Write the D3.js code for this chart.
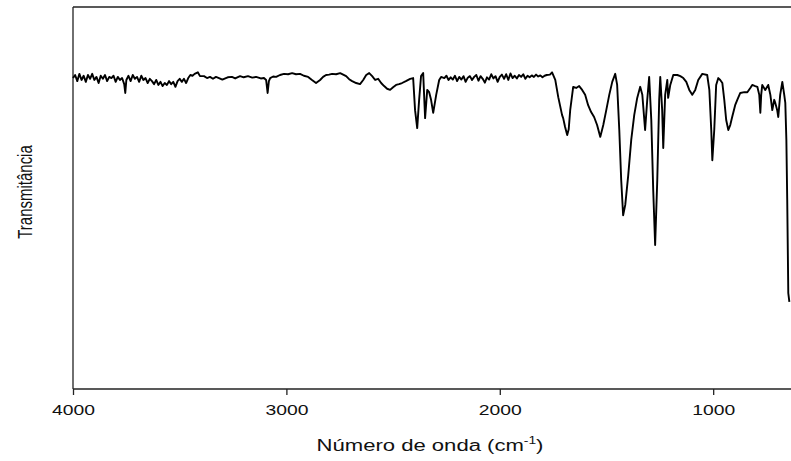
<!DOCTYPE html>
<html><head><meta charset="utf-8">
<script src="https://cdn.jsdelivr.net/npm/d3@7"></script>
<style>html,body{margin:0;padding:0;background:#fff;overflow:hidden}</style>
</head><body><svg id="c" width="791" height="461"></svg>
<script>
const xTicks = [4000, 3000, 2000, 1000];
const xTitle = "Número de onda (cm";
const yTitle = "Transmitância";

const spectrumHigh = [[4000,81.4],[3990,82.2],[3980,80.6],[3970,82.5],[3960,80.9],[3950,82.0],[3940,80.4],[3930,82.2],[3920,81.2],[3910,82.5],[3900,80.9],[3890,81.7],[3880,80.1],[3870,82.0],[3860,81.2],[3850,82.2],[3840,80.6],[3830,81.7],[3820,81.4],[3810,82.0],[3800,80.4],[3790,81.7],[3780,80.9],[3770,81.4],[3760,79.8],[3755,77.5],[3750,80.9],[3740,82.0],[3730,80.6],[3720,82.2],[3710,81.2],[3700,81.7],[3690,80.4],[3680,82.0],[3670,80.9],[3660,81.4],[3650,80.1],[3640,81.2],[3630,80.6],[3620,79.8],[3610,80.9],[3600,79.6],[3590,80.4],[3580,79.3],[3570,80.1],[3560,79.6],[3550,80.6],[3540,79.8],[3530,80.4],[3520,79.1],[3510,80.6],[3500,81.2],[3490,80.4],[3480,81.2],[3470,80.1],[3460,81.4],[3450,82.2],[3440,82.0],[3430,82.5],[3415,82.9],[3405,81.9]];

const spectrumMid = [[3386,81.9],[3372,81.4],[3358,81.7],[3344,81.2],[3330,81.7],[3316,81.4],[3300,81.0],[3292,81.2],[3275,81.6],[3255,81.7],[3240,81.3],[3217,81.9],[3200,81.6],[3180,81.9],[3160,81.5],[3142,81.7],[3120,81.3],[3105,81.4],[3095,80.9],[3088,77.5],[3082,80.6],[3076,81.4],[3062,81.8],[3048,81.7],[3030,82.2],[3011,82.5],[2992,82.4],[2973,82.7],[2955,82.4],[2936,82.5],[2918,82.0],[2898,81.7],[2880,80.9],[2861,80.1],[2842,80.9],[2828,81.7],[2814,82.2],[2800,82.3],[2786,82.5],[2767,82.4],[2748,82.7],[2734,82.3],[2720,81.9],[2706,81.1],[2692,80.6],[2673,80.1],[2655,79.8],[2640,80.9],[2626,82.2],[2612,82.7],[2598,81.9],[2584,80.9],[2570,81.2],[2556,80.1],[2542,79.3],[2528,78.6],[2514,78.3],[2500,79.0],[2486,79.6],[2472,79.8],[2458,80.1],[2440,80.6],[2420,81.2],[2406,81.4],[2397,73.0],[2387,68.3],[2378,75.7],[2369,81.9],[2359,82.7],[2350,70.9],[2340,78.3],[2331,77.7],[2322,75.7],[2312,72.3],[2298,77.0],[2284,80.9],[2275,81.7]];

const spectrumLow = [[2260,81.4],[2250,82.0],[2240,80.9],[2230,81.6],[2220,81.0],[2210,82.0],[2200,80.6],[2190,81.7],[2180,81.0],[2170,81.9],[2160,80.4],[2150,81.5],[2140,81.9],[2130,80.9],[2120,81.7],[2110,82.2],[2100,80.7],[2090,81.9],[2080,81.2],[2070,80.2],[2060,81.6],[2050,81.0],[2040,82.4],[2030,81.3],[2020,81.9],[2010,80.4],[2000,81.7],[1990,82.3],[1980,81.2],[1970,82.4],[1960,80.9],[1950,82.6],[1940,81.4],[1930,82.0],[1920,81.3],[1910,82.2],[1900,81.7],[1890,82.4],[1880,81.2],[1870,82.0],[1860,81.6],[1850,82.1],[1840,81.7],[1830,82.3],[1820,81.8],[1810,82.1],[1800,81.6],[1790,82.0],[1780,82.2],[1765,82.3],[1755,82.9]];

const spectrumFinger = [[1740,80.9],[1726,76.4],[1708,71.7],[1703,70.9],[1694,68.6],[1684,66.5],[1677,68.0],[1670,73.0],[1656,79.1],[1642,78.8],[1628,79.3],[1614,78.3],[1600,77.0],[1586,74.3],[1572,72.5],[1558,71.2],[1544,69.1],[1529,66.0],[1515,69.1],[1501,73.0],[1487,77.0],[1473,80.4],[1459,82.5],[1450,79.6],[1440,67.8],[1431,54.7],[1422,45.5],[1412,48.2],[1398,56.0],[1384,65.2],[1370,71.7],[1356,76.2],[1342,79.1],[1332,77.0],[1319,67.8],[1309,75.7],[1300,81.7],[1290,70.4],[1281,52.1],[1272,37.7],[1262,54.7],[1253,75.7],[1248,81.7],[1239,73.0],[1234,63.1],[1225,77.0],[1215,80.9],[1211,76.2],[1201,79.6],[1187,82.2],[1168,82.2],[1154,81.9],[1140,81.4],[1126,80.4],[1112,78.3],[1098,77.0],[1084,78.3],[1070,80.9],[1051,82.5],[1028,82.2],[1018,78.3],[1009,67.8],[1004,59.9],[995,67.8],[986,79.6],[976,81.4],[967,80.9],[957,80.1],[948,75.7],[939,70.4],[929,67.8],[920,69.1],[911,71.2],[897,74.3],[887,75.7],[873,77.5],[854,77.7],[840,77.7],[826,78.8],[817,79.6],[803,79.3],[793,79.1],[784,77.0],[779,72.3],[775,77.0],[770,79.6],[756,78.3],[742,79.6],[732,77.0],[723,73.0],[714,75.7],[709,74.9],[700,73.0],[695,71.2],[686,77.0],[676,80.4],[667,77.0],[662,74.9],[657,65.2],[653,49.5],[648,25.1],[643,22.8]];

const spectrum = spectrumHigh.concat(spectrumMid, spectrumLow, spectrumFinger);

const svg = d3.select("#c");
const L = 73, R = 790, T = 7, B = 389;
const x = d3.scaleLinear().domain([4000, 640]).range([L, R]);
const y = d3.scaleLinear().domain([0, 100]).range([B, T]);
const sx = 1.38;

// frame
svg.append("line").attr("x1", L).attr("x2", 791).attr("y1", T).attr("y2", T)
  .attr("stroke", "#222").attr("stroke-width", 1.3);
svg.append("line").attr("x1", L).attr("x2", L).attr("y1", T).attr("y2", B)
  .attr("stroke", "#222").attr("stroke-width", 1.3);

// x axis
const ax = svg.append("g").attr("transform", `translate(0,${B})`)
  .call(d3.axisBottom(x).tickValues(xTicks).tickSize(6).tickSizeOuter(0).tickFormat(d3.format("d")));
ax.select(".domain").attr("stroke", "#222").attr("stroke-width", 1.3).attr("d", `M${L},0H791`);
ax.selectAll(".tick line").attr("stroke", "#222").attr("stroke-width", 1.3);
ax.selectAll(".tick text").remove();
ax.selectAll(".tick").append("text")
  .attr("transform", `translate(0,26) scale(${sx},1)`)
  .attr("text-anchor", "middle")
  .attr("font-family", "Liberation Sans, Arial, sans-serif")
  .attr("font-size", 14).attr("fill", "#111")
  .text(d => d);

// line
const line = d3.line().x(d => x(d[0])).y(d => y(d[1]));
svg.append("path").datum(spectrum).attr("d", line)
  .attr("fill", "none").attr("stroke", "#000").attr("stroke-width", 1.9)
  .attr("stroke-linejoin", "round");

// x title
const xt = svg.append("text")
  .attr("transform", `translate(430,451) scale(${sx},1)`)
  .attr("text-anchor", "middle")
  .attr("font-family", "Liberation Sans, Arial, sans-serif")
  .attr("font-size", 16).attr("fill", "#111");
xt.append("tspan").text(xTitle);
xt.append("tspan").attr("font-size", 10).attr("dy", -7).text("-1");
xt.append("tspan").attr("dy", 7).text(")");

// y title
svg.append("text")
  .attr("transform", `translate(32,192) scale(${sx},1) rotate(-90)`)
  .attr("text-anchor", "middle")
  .attr("font-family", "Liberation Sans, Arial, sans-serif")
  .attr("font-size", 15).attr("fill", "#111")
  .text(yTitle);
</script>
</body></html>
